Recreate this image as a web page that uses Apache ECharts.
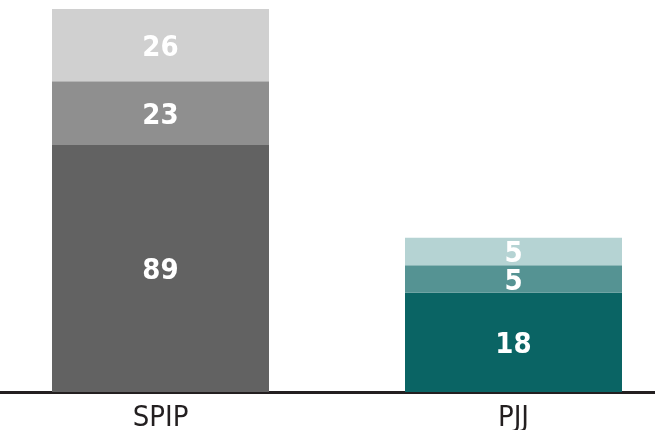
<!DOCTYPE html>
<html>
<head>
<meta charset="utf-8">
<script src="https://cdn.jsdelivr.net/npm/echarts@6/dist/echarts.min.js"></script>
<style>
  html, body { margin: 0; padding: 0; background: #fff; }
  #chart { width: 655px; height: 430px; }
</style>
</head>
<body>
<div id="chart"></div>
<script>
// data
var categories = ['SPIP', 'PJJ']
var spipValues = [89, 23, 26]   // bottom -> top
var pjjValues = [18, 5, 5]      // bottom -> top
var spipColors = ['#626262', '#8f8f8f', '#d0d0d0']
var pjjColors = ['#0a6464', '#559393', '#b5d3d3']

var font = '"Liberation Sans Narrow", "DejaVu Sans Condensed", sans-serif'

function segLabel() {
  return {
    show: true,
    position: 'inside',
    color: '#fff',
    fontFamily: font,
    fontWeight: 'bold',
    fontSize: 29,
    offset: [0, 3]
  }
}

var series = []
spipValues.forEach(function (v, i) {
  series.push({
    type: 'bar',
    stack: 'spip',
    yAxisIndex: 0,
    barWidth: 217,
    barGap: '-100%',
    data: [v, '-'],
    itemStyle: { color: spipColors[i] },
    label: segLabel()
  })
})
pjjValues.forEach(function (v, i) {
  series.push({
    type: 'bar',
    stack: 'pjj',
    yAxisIndex: 1,
    barWidth: 217,
    barGap: '-100%',
    data: ['-', v],
    itemStyle: { color: pjjColors[i] },
    label: segLabel()
  })
})

var chart = echarts.init(document.getElementById('chart'))
chart.setOption({
  animation: false,
  grid: { left: -16, width: 706, top: 9, bottom: 38, outerBoundsMode: 'none', containLabel: false },
  xAxis: {
    type: 'category',
    data: categories,
    axisLine: { lineStyle: { color: '#231f20', width: 3 } },
    axisTick: { show: false },
    axisLabel: {
      color: '#231f20',
      fontFamily: font,
      fontSize: 29,
      margin: 12
    }
  },
  yAxis: [
    { type: 'value', min: 0, max: 138, show: false },
    { type: 'value', min: 0, max: 69.5, show: false }
  ],
  series: series
})
</script>
</body>
</html>
